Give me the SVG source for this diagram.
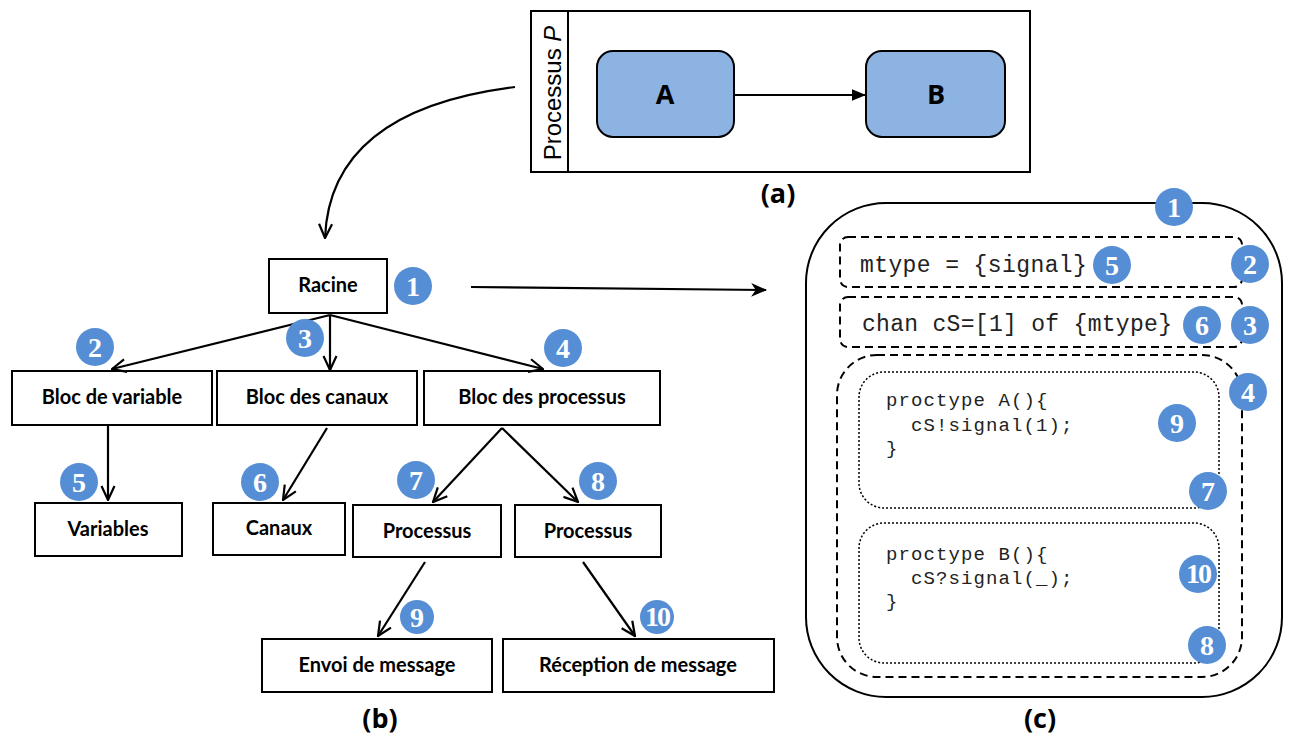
<svg xmlns="http://www.w3.org/2000/svg" width="1292" height="738" viewBox="0 0 1292 738">
<style>
.box{fill:#fff;stroke:#000;stroke-width:2}
.lbl{font-family:Lato,"Liberation Sans",Arial,sans-serif;font-weight:bold;font-size:20px;text-anchor:middle;fill:#000}
.cap{font-family:"Open Sans","Liberation Sans",sans-serif;font-weight:bold;font-size:27px;text-anchor:middle;fill:#000}
.bc{fill:#558ED5}
.bt{fill:#fff;font-family:"Liberation Serif","DejaVu Serif",serif;font-weight:bold;font-size:28px;text-anchor:middle}
.conn{stroke:#000;stroke-width:2.2;fill:none}
.code{font-family:"Liberation Mono","Courier New",monospace;fill:#222}
.dash{fill:none;stroke:#000;stroke-width:2;stroke-dasharray:8 5}
.dot{fill:none;stroke:#000;stroke-width:1.5;stroke-dasharray:2 2}
.blue{fill:#8DB3E2;stroke:#000;stroke-width:2}
</style>
<defs>
<marker id="v" viewBox="0 0 16 16" refX="15" refY="8" markerWidth="16" markerHeight="16" markerUnits="userSpaceOnUse" orient="auto">
<path d="M1,1.5 L15,8 L1,14.5" fill="none" stroke="#000" stroke-width="2.2"/>
</marker>
<marker id="f" viewBox="0 0 14 12" refX="13" refY="6" markerWidth="16" markerHeight="14" markerUnits="userSpaceOnUse" orient="auto">
<path d="M0,0 L14,6 L0,12 L4,6z" fill="#000"/>
</marker>
<marker id="t" viewBox="0 0 12 10" refX="12" refY="5" markerWidth="14" markerHeight="12" markerUnits="userSpaceOnUse" orient="auto">
<path d="M0,0 L12,5 L0,10z" fill="#000"/>
</marker>
</defs>

<!-- (a) -->
<g id="processP">
<rect class="box" x="531" y="11" width="499" height="161"/>
<line x1="568" y1="11" x2="568" y2="172" stroke="#000" stroke-width="2"/>
<text transform="translate(561,93) rotate(-90)" font-family="'Liberation Sans',Arial,sans-serif" font-size="24" text-anchor="middle">Processus <tspan font-style="italic">P</tspan></text>
</g>
<g id="nodeA">
<rect class="blue" x="597" y="51" width="137" height="86" rx="16"/>
<text class="cap" x="665" y="104" font-size="29">A</text>
</g>
<g id="nodeB">
<rect class="blue" x="866" y="51" width="139" height="86" rx="16"/>
<text class="cap" x="936" y="104" font-size="29">B</text>
</g>
<text class="cap" x="778" y="203">(a)</text>

<!-- (b) tree nodes -->
<g id="racine"><rect class="box" x="269" y="259" width="118" height="54"/><text class="lbl" x="328" y="292">Racine</text></g>
<g id="blocVar"><rect class="box" x="12" y="371" width="200" height="54"/><text class="lbl" x="112" y="404">Bloc de variable</text></g>
<g id="blocCan"><rect class="box" x="217" y="371" width="200" height="54"/><text class="lbl" x="317" y="404">Bloc des canaux</text></g>
<g id="blocProc"><rect class="box" x="424" y="371" width="236" height="54"/><text class="lbl" x="542" y="404">Bloc des processus</text></g>
<g id="variables"><rect class="box" x="35" y="503" width="147" height="53"/><text class="lbl" x="108" y="536">Variables</text></g>
<g id="canaux"><rect class="box" x="213" y="503" width="132" height="52"/><text class="lbl" x="279" y="535">Canaux</text></g>
<g id="proc1"><rect class="box" x="353" y="505" width="148" height="52"/><text class="lbl" x="427" y="538">Processus</text></g>
<g id="proc2"><rect class="box" x="515" y="505" width="146" height="52"/><text class="lbl" x="588" y="538">Processus</text></g>
<g id="envoi"><rect class="box" x="262" y="639" width="230" height="53"/><text class="lbl" x="377" y="672">Envoi de message</text></g>
<g id="reception"><rect class="box" x="503" y="639" width="271" height="53"/><text class="lbl" x="638" y="672">Réception de message</text></g>
<text class="cap" x="380" y="728">(b)</text>

<!-- connectors -->
<g id="connectors">
<path class="conn" d="M515,87 Q330,110 325,238" marker-end="url(#v)"/>
<line class="conn" x1="330" y1="315" x2="112" y2="369" marker-end="url(#v)"/>
<line class="conn" x1="330" y1="315" x2="330" y2="370" marker-end="url(#v)"/>
<line class="conn" x1="330" y1="315" x2="543" y2="369" marker-end="url(#v)"/>
<line class="conn" x1="108" y1="425" x2="108" y2="500" marker-end="url(#v)"/>
<line class="conn" x1="327" y1="428" x2="283" y2="500" marker-end="url(#v)"/>
<line class="conn" x1="502" y1="428" x2="433" y2="502" marker-end="url(#v)"/>
<line class="conn" x1="502" y1="428" x2="578" y2="502" marker-end="url(#v)"/>
<line class="conn" x1="425" y1="562" x2="378" y2="636" marker-end="url(#v)"/>
<line class="conn" x1="583" y1="562" x2="635" y2="636" marker-end="url(#v)"/>
<line class="conn" x1="471" y1="287" x2="766" y2="290" marker-end="url(#f)"/>
<line class="conn" x1="734" y1="95" x2="866" y2="95" marker-end="url(#t)"/>
</g>

<!-- (c) -->
<g id="promela">
<rect fill="none" stroke="#000" stroke-width="2" x="806" y="203" width="476" height="494" rx="80"/>
<rect class="dash" x="840" y="237" width="402" height="50" rx="8"/>
<text class="code" x="860" y="272" font-size="23" letter-spacing="0.4">mtype = {signal}</text>
<rect class="dash" x="840" y="297" width="402" height="50" rx="8"/>
<text class="code" x="862" y="331" font-size="23" letter-spacing="0.3">chan cS=[1] of {mtype}</text>
<rect class="dash" x="837" y="355" width="405" height="322" rx="40"/>
<rect class="dot" x="859" y="372" width="360" height="136" rx="25"/>
<text class="code" font-size="19" letter-spacing="1.1"><tspan x="886" y="406">proctype A(){</tspan><tspan x="911" y="431">cS!signal(1);</tspan><tspan x="886" y="454">}</tspan></text>
<rect class="dot" x="859" y="523" width="360" height="140" rx="25"/>
<text class="code" font-size="19" letter-spacing="1.1"><tspan x="886" y="560">proctype B(){</tspan><tspan x="911" y="584">cS?signal(_);</tspan><tspan x="886" y="607">}</tspan></text>
</g>
<text class="cap" x="1040" y="728">(c)</text>

<!-- badges -->
<g id="badges">
<g><circle class="bc" cx="413" cy="286" r="19"/><text class="bt" x="413" y="296">1</text></g>
<g><circle class="bc" cx="95" cy="347" r="19"/><text class="bt" x="95" y="357">2</text></g>
<g><circle class="bc" cx="305" cy="338" r="19"/><text class="bt" x="305" y="348">3</text></g>
<g><circle class="bc" cx="563" cy="348" r="19"/><text class="bt" x="563" y="358">4</text></g>
<g><circle class="bc" cx="79" cy="482" r="19"/><text class="bt" x="79" y="492">5</text></g>
<g><circle class="bc" cx="260" cy="482" r="19"/><text class="bt" x="260" y="492">6</text></g>
<g><circle class="bc" cx="416" cy="480" r="19"/><text class="bt" x="416" y="490">7</text></g>
<g><circle class="bc" cx="598" cy="481" r="19"/><text class="bt" x="598" y="491">8</text></g>
<g><circle class="bc" cx="417" cy="617" r="17"/><text class="bt" x="417" y="627">9</text></g>
<g><circle class="bc" cx="657" cy="617" r="17"/><text class="bt" x="657" y="626" font-size="25" letter-spacing="-2">10</text></g>
<g><circle class="bc" cx="1174" cy="207" r="19"/><text class="bt" x="1174" y="217">1</text></g>
<g><circle class="bc" cx="1112" cy="265" r="19"/><text class="bt" x="1112" y="275">5</text></g>
<g><circle class="bc" cx="1250" cy="264" r="19"/><text class="bt" x="1250" y="274">2</text></g>
<g><circle class="bc" cx="1202" cy="325" r="19"/><text class="bt" x="1202" y="335">6</text></g>
<g><circle class="bc" cx="1250" cy="325" r="19"/><text class="bt" x="1250" y="335">3</text></g>
<g><circle class="bc" cx="1248" cy="392" r="19"/><text class="bt" x="1248" y="402">4</text></g>
<g><circle class="bc" cx="1177" cy="423" r="19"/><text class="bt" x="1177" y="433">9</text></g>
<g><circle class="bc" cx="1208" cy="491" r="19"/><text class="bt" x="1208" y="501">7</text></g>
<g><circle class="bc" cx="1198" cy="574" r="19"/><text class="bt" x="1198" y="583" font-size="26" letter-spacing="-2">10</text></g>
<g><circle class="bc" cx="1207" cy="645" r="19"/><text class="bt" x="1207" y="655">8</text></g>
</g>
</svg>
